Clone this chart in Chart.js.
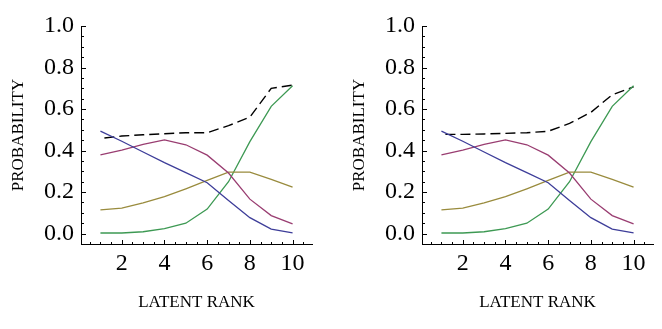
<!DOCTYPE html>
<html><head><meta charset="utf-8">
<script src="https://cdn.jsdelivr.net/npm/chart.js@4"></script>
<style>
html,body{margin:0;padding:0;background:#fff;overflow:hidden;width:662px;height:329px}
#c1{position:absolute;left:0;top:0}
#c2{position:absolute;left:341px;top:0}
</style></head><body>
<canvas id="c1" width="341" height="329"></canvas>
<canvas id="c2" width="321" height="329"></canvas>
<script>
// ---- data ----
const ranks = [1, 2, 3, 4, 5, 6, 7, 8, 9, 10];
const xTickLabels = [2, 4, 6, 8, 10];
const yTickLabels = [0.0, 0.2, 0.4, 0.6, 0.8, 1.0];
const seriesBlue   = [0.494, 0.445, 0.393, 0.342, 0.294, 0.245, 0.160, 0.077, 0.022, 0.004];
const seriesPurple = [0.379, 0.402, 0.430, 0.451, 0.428, 0.378, 0.292, 0.166, 0.087, 0.047];
const seriesOlive  = [0.114, 0.123, 0.148, 0.178, 0.216, 0.256, 0.296, 0.296, 0.261, 0.224];
const seriesGreen  = [0.003, 0.003, 0.009, 0.024, 0.050, 0.118, 0.250, 0.443, 0.613, 0.712];
const dashedLeft   = [0.458, 0.470, 0.476, 0.481, 0.486, 0.486, 0.520, 0.561, 0.700, 0.715];
const dashedRight  = [0.478, 0.478, 0.480, 0.483, 0.486, 0.493, 0.531, 0.584, 0.669, 0.707];

const COLORS = ['#3d3d99', '#993d71', '#998b3d', '#3d9953'];
const FONT = "'Liberation Serif', 'Times New Roman', serif";

function pts(arr){ return ranks.map((r,i)=>({x:r, y:arr[i]})); }

const inTicks = {
  id: 'inTicks',
  afterDraw(chart){
    const {ctx, chartArea:a, scales:{x, y}} = chart;
    ctx.save();
    ctx.strokeStyle = '#000';
    ctx.lineWidth = 1;
    ctx.beginPath();
    for (let i = 1; i * 0.5 <= x.max; i++){
      const v = i * 0.5;
      const major = xTickLabels.includes(v);
      const px = Math.round(x.getPixelForValue(v)) + 0.5;
      ctx.moveTo(px, a.bottom + 0.5);
      ctx.lineTo(px, a.bottom + 0.5 - (major ? 4.5 : 2.5));
    }
    for (let i = 0; i <= 20; i++){
      const v = i * 0.05;
      const major = i % 4 === 0;
      const py = Math.round(y.getPixelForValue(v)) + 0.5;
      ctx.moveTo(a.left + 0.5, py);
      ctx.lineTo(a.left + 0.5 + (major ? 4.5 : 2.5), py);
    }
    ctx.stroke();
    ctx.restore();
  }
};

function makeChart(id, dashed, padRight){
  const series = [seriesBlue, seriesPurple, seriesOlive, seriesGreen];
  const datasets = series.map((s, k)=>({
    data: pts(s), showLine: true, borderColor: COLORS[k], borderWidth: 1.3, pointRadius: 0, tension: 0
  }));
  datasets.push({
    data: pts(dashed), showLine: true, borderColor: '#000', borderWidth: 1.4,
    borderDash: [10, 5], borderDashOffset: 11, pointRadius: 0, tension: 0
  });
  return new Chart(document.getElementById(id), {
    type: 'scatter',
    data: { datasets },
    options: {
      responsive: false, animation: false, devicePixelRatio: 1,
      layout: { padding: { top: 26, right: padRight, left: 0, bottom: 0 } },
      plugins: { legend: { display: false }, tooltip: { enabled: false } },
      scales: {
        x: {
          type: 'linear', min: 0.09, max: 10.91,
          grid: { display: false, drawTicks: false },
          border: { display: true, color: '#000', width: 1 },
          afterBuildTicks: s => { s.ticks = xTickLabels.map(v => ({ value: v })); },
          ticks: { color: '#000', font: { family: FONT, size: 24 }, padding: 5, maxRotation: 0, autoSkip: false,
                   callback: v => String(v) },
          title: { display: true, text: 'LATENT RANK', color: '#000', font: { family: FONT, size: 17 },
                   padding: { top: 0, bottom: 16 } },
          afterFit: s => { s.height = 85; }
        },
        y: {
          type: 'linear', min: -0.05, max: 1.0,
          grid: { display: false, drawTicks: false },
          border: { display: true, color: '#000', width: 1 },
          afterBuildTicks: s => { s.ticks = yTickLabels.map(v => ({ value: v })); },
          ticks: { color: '#000', font: { family: FONT, size: 24 }, padding: 7, autoSkip: false,
                   callback: v => Number(v).toFixed(1) },
          title: { display: true, text: 'PROBABILITY', color: '#000', font: { family: FONT, size: 17 },
                   padding: { top: 8, bottom: 0 } },
          afterFit: s => { s.width = 81; }
        }
      }
    },
    plugins: [inTicks]
  });
}

makeChart('c1', dashedLeft, 29);
makeChart('c2', dashedRight, 9);
</script>
</body></html>
